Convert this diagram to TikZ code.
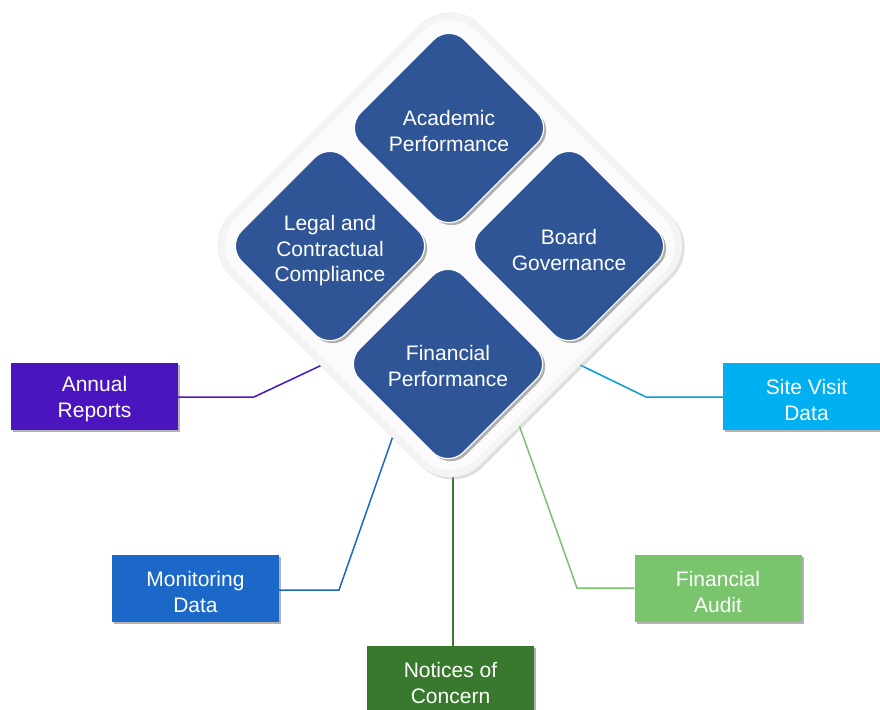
\documentclass[tikz,border=0pt]{standalone}
\usepackage{fontspec}
\setmainfont{Liberation Sans}
\usetikzlibrary{shapes.geometric,shadows}
\definecolor{dblue}{HTML}{2F5597}
\definecolor{cpurple}{HTML}{4A14BE}
\definecolor{csky}{HTML}{00B0F0}
\definecolor{cmon}{HTML}{1B68C9}
\definecolor{cdgreen}{HTML}{38792E}
\definecolor{clgreen}{HTML}{7AC46E}
\begin{document}
\begin{tikzpicture}[x=1pt,y=-1pt,
  quad/.style={diamond, aspect=1, minimum size=208pt, inner sep=0pt,
    rounded corners=22pt, fill=dblue, draw=white, line width=1.2pt,
    drop shadow={shadow xshift=2.5pt, shadow yshift=-2.5pt, fill=black, opacity=.3}},
  qtext/.style={text=white, align=center, inner sep=0pt, font=\fontsize{21}{25.5}\selectfont},
  src/.style={rectangle, minimum width=167pt, minimum height=67pt, inner sep=0pt,
    drop shadow={shadow xshift=2pt, shadow yshift=-2pt, fill=black, opacity=.3}},
  stext/.style={text=white, align=center, inner sep=0pt, font=\fontsize{21}{26}\selectfont},
  link/.style={line width=1.5pt}]
\useasboundingbox (0,0) rectangle (880,709);
\fill[white] (0,0) rectangle (880,709);

% source boxes
\node[src, fill=cpurple] (annual) at (94.5,396) {};
\node[src, fill=csky] (site) at (806.5,396) {};
\node[src, fill=cmon] (monitor) at (195.5,588.5) {};
\node[src, fill=cdgreen] (notices) at (450.5,679.5) {};
\node[src, fill=clgreen] (audit) at (718,588.5) {};
\node[stext] (tannual) at ([yshift=-3.5pt]annual.center) {Annual\\Reports};
\node[stext] (tsite) at ([yshift=-3.5pt]site.center) {Site Visit\\Data};
\node[stext] (tmonitor) at ([yshift=-3.5pt]monitor.center) {Monitoring\\Data};
\node[stext] (tnotices) at ([yshift=-3.5pt]notices.center) {Notices of\\Concern};
\node[stext] (taudit) at ([yshift=-3.5pt]audit.center) {Financial\\Audit};

% connector bends and ends
\coordinate (kA) at (254,397);
\coordinate (eA) at (322,365);
\coordinate (kS) at (646,397);
\coordinate (eS) at (576,363);
\coordinate (kM) at (339,590);
\coordinate (eM) at (393,436);
\coordinate (eN) at (453,470);
\coordinate (kF) at (577,588);
\coordinate (eF) at (518,422);

\draw[link, cpurple] (annual.east |- kA) -- (kA) -- (eA);
\draw[link, csky!90!black] (site.west |- kS) -- (kS) -- (eS);
\draw[link, cmon] (monitor.east |- kM) -- (kM) -- (eM);
\draw[link, cdgreen] (eN) -- (eN |- notices.north);
\draw[link, clgreen] (audit.west |- kF) -- (kF) -- (eF);

% frame
\node[diamond, aspect=1, minimum size=500pt, inner sep=0pt, rounded corners=43pt,
  fill=gray!9, draw=gray!14, line width=.5pt,
  drop shadow={shadow xshift=2.5pt, shadow yshift=-2.5pt, fill=gray!70, opacity=.35}] (frame) at (450,245) {};
\node[diamond, aspect=1, minimum size=482pt, inner sep=0pt, rounded corners=39pt,
  fill=white!97!gray] (frameinner) at (450,245) {};

% quadrants
\node[quad] (acad) at (449,128) {};
\node[quad] (legal) at (330,246) {};
\node[quad] (board) at (569,246) {};
\node[quad] (fin) at (448,364) {};
\node[qtext] (tacad) at ([yshift=-3pt]acad.center) {Academic\\Performance};
\node[qtext] (tlegal) at ([yshift=-5pt]legal.center) {Legal and\\Contractual\\Compliance};
\node[qtext] (tboard) at ([yshift=-4pt]board.center) {Board\\Governance};
\node[qtext] (tfin) at ([yshift=-2pt]fin.center) {Financial\\Performance};
\end{tikzpicture}
\end{document}
